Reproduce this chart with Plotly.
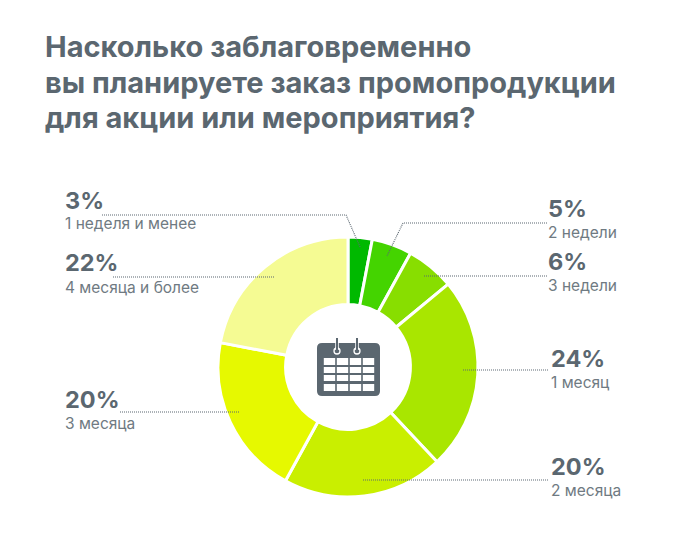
import plotly.graph_objects as go

W, H = 700, 560
OFFSET = 8  # page margin around the plot div

categories = ['1 неделя и менее', '2 недели', '3 недели', '1 месяц', '2 месяца', '3 месяца', '4 месяца и более']
values = [3, 5, 6, 24, 20, 20, 22]
colors = ['#00b900', '#44d400', '#88de00', '#a9e600', '#c9ef00', '#e6f900', '#f5fb93']

# label position for each slice (left px, pct line px, sub line px)
label_x = [65, 548, 548, 551, 551, 65, 65]
pct_y = [200, 208, 262, 358, 466, 399, 263]
sub_y = [224, 232, 285, 382, 490, 423, 287]

# leader lines in px
leaders = [
    [(102, 215), (346, 215), (360, 247)],
    [(547, 223), (403, 223), (387, 256)],
    [(547, 276), (423, 276)],
    [(548, 370), (462, 370)],
    [(548, 480), (362, 480)],
    [(120, 412), (240, 412)],
    [(113, 277), (275, 277)],
]

title_lines = ['Насколько заблаговременно', 'вы планируете заказ промопродукции', 'для акции или мероприятия?']

TEXT = '#5b6770'
FONT = 'Inter'


def px(x):
    return (x - OFFSET) / W


def py(y):
    return 1 - (y - OFFSET) / H


fig = go.Figure(go.Pie(
    labels=categories,
    values=values,
    hole=0.48,
    sort=False,
    direction='clockwise',
    rotation=0,
    textinfo='none',
    hoverinfo='label+percent',
    marker=dict(colors=colors, line=dict(color='white', width=3)),
    domain=dict(x=[px(218), px(478)], y=[py(497), py(237)]),
    showlegend=False,
))

annotations = []
for i, line in enumerate(title_lines):
    annotations.append(dict(x=px(45), y=py(47 + i * 35.5), text=f'<b>{line}</b>', xanchor='left', yanchor='middle',
                            font=dict(family=FONT, size=29, color=TEXT), showarrow=False, xshift=-2))
for name, v, x, y1, y2 in zip(categories, values, label_x, pct_y, sub_y):
    annotations.append(dict(x=px(x), y=py(y1), text=f'<b>{v}%</b>', xanchor='left', yanchor='middle',
                            font=dict(family=FONT, size=23.5, color=TEXT), showarrow=False, xshift=-2))
    annotations.append(dict(x=px(x), y=py(y2), text=name, xanchor='left', yanchor='middle',
                            font=dict(family=FONT, size=15.5, color='#6f7a82'), showarrow=False, xshift=-2))

shapes = []
for pts in leaders:
    path = 'M ' + ' L '.join(f'{px(a):.4f},{py(b):.4f}' for a, b in pts)
    shapes.append(dict(type='path', path=path, xref='paper', yref='paper',
                       line=dict(color='#5b6770', width=1.1, dash='1px,1px')))


def rect(x0, y0, x1, y1, color):
    return dict(type='rect', xref='paper', yref='paper', x0=px(x0), x1=px(x1), y0=py(y0), y1=py(y1),
                fillcolor=color, line=dict(width=0), layer='above')


# calendar icon
r = 5
x0, x1, y0, y1 = 317, 380, 343, 396
body = (f'M {px(x0+r)},{py(y0)} L {px(x1-r)},{py(y0)} Q {px(x1)},{py(y0)} {px(x1)},{py(y0+r)} '
        f'L {px(x1)},{py(y1-r)} Q {px(x1)},{py(y1)} {px(x1-r)},{py(y1)} L {px(x0+r)},{py(y1)} '
        f'Q {px(x0)},{py(y1)} {px(x0)},{py(y1-r)} L {px(x0)},{py(y0+r)} Q {px(x0)},{py(y0)} {px(x0+r)},{py(y0)} Z')
shapes.append(dict(type='path', path=body, xref='paper', yref='paper', fillcolor=TEXT, line=dict(width=0), layer='above'))
cols = [(323, 336), (336, 349), (349, 362), (362, 375)]
rows = [(358, 365), (367, 373), (375, 381), (384, 391)]
for a, b in cols:
    for c, d in rows:
        shapes.append(rect(a + 0.8, c, b - 0.8, d, 'white'))
for cx in (337, 357):
    shapes.append(dict(type='circle', xref='paper', yref='paper', x0=px(cx - 3), x1=px(cx + 3), y0=py(354), y1=py(348),
                       fillcolor=TEXT, line=dict(color='white', width=1.3), layer='above'))
    shapes.append(dict(type='line', xref='paper', yref='paper', x0=px(cx), x1=px(cx), y0=py(338), y1=py(350),
                       line=dict(color='white', width=3.5), layer='above'))
    shapes.append(dict(type='line', xref='paper', yref='paper', x0=px(cx), x1=px(cx), y0=py(338), y1=py(351),
                       line=dict(color=TEXT, width=2), layer='above'))

fig.update_layout(
    width=W, height=H,
    margin=dict(l=0, r=0, t=0, b=0),
    paper_bgcolor='white',
    annotations=annotations,
    shapes=shapes,
)

fig.write_html('out.html')
